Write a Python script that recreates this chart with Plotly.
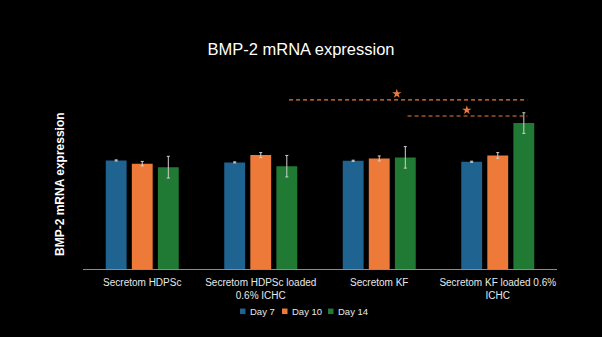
import plotly.graph_objects as go

categories = ["Secretom HDPSc", "Secretom HDPSc loaded<br>0.6% ICHC", "Secretom KF", "Secretom KF loaded 0.6%<br>ICHC"]
series_names = ["Day 7", "Day 10", "Day 14"]
day7 = [1.000, 0.982, 0.997, 0.988]
day10 = [0.970, 1.049, 1.018, 1.046]
day14 = [0.938, 0.947, 1.028, 1.344]
err7 = [0.005, 0.005, 0.005, 0.005]
err10 = [0.021, 0.023, 0.023, 0.026]
err14 = [0.100, 0.099, 0.099, 0.095]
colors = ["#1F6391", "#EE7A3A", "#217A33"]

# significance brackets
sig_start = [1, 2]
sig_end = [3, 3]
sig_y = [1.558, 1.409]
star_x = [2.148, 2.739]
star_y = [1.614, 1.463]

W, H = 602, 337
ML, MR, MT, MB = 83, 45, 79, 68
FONT = "Arial, Liberation Sans"

fig = go.Figure()
for name, vals, errs, col in zip(series_names, [day7, day10, day14], [err7, err10, err14], colors):
    fig.add_trace(go.Bar(
        x=categories, y=vals, name=name, marker_color=col, marker_line_width=0,
        error_y=dict(type="data", array=errs, color="#D0D0D0", thickness=1, width=1.5),
        showlegend=False,
    ))

green_off = 0.219
for s, e, yv in zip(sig_start, sig_end, sig_y):
    fig.add_shape(type="line", xref="x", yref="y",
                  x0=s + green_off + 0.02, x1=e + green_off + 0.03, y0=yv, y1=yv,
                  line=dict(color="#EE7A3A", width=1.2, dash="4px,3px"))
fig.add_trace(go.Scatter(x=star_x, y=star_y, mode="markers", showlegend=False, xaxis="x2",
                         marker=dict(symbol="star", size=7, color="#EE7A3A"), hoverinfo="skip"))

# manual compact legend (pixel positions converted to paper coords)
def px_x(p):
    return (p - ML) / (W - ML - MR)

def px_y(p):
    return (H - MB - p) / (H - MT - MB)

leg_sq_x = [240, 282, 328]
leg_y = 311.3
for name, col, sx in zip(series_names, colors, leg_sq_x):
    fig.add_shape(type="rect", xref="paper", yref="paper",
                  x0=px_x(sx), x1=px_x(sx + 5.5), y0=px_y(leg_y + 2.75), y1=px_y(leg_y - 2.75),
                  fillcolor=col, line_width=0)
    fig.add_annotation(text=name, xref="paper", yref="paper", x=px_x(sx + 8), y=px_y(leg_y),
                       xanchor="left", yanchor="middle", showarrow=False,
                       font=dict(family=FONT, size=9.5, color="#E8E8E8"))

fig.update_layout(
    width=W, height=H,
    paper_bgcolor="black", plot_bgcolor="black",
    margin=dict(l=ML, r=MR, t=MT, b=MB),
    barmode="group", bargap=0.34, bargroupgap=0.2,
    title=dict(text="BMP-2 mRNA expression", x=0.5, xref="container", xanchor="center",
               y=1 - 49 / H, yref="container", yanchor="middle",
               font=dict(family=FONT, size=16.5, color="white")),
    font=dict(family=FONT, color="white"),
    showlegend=False,
    xaxis=dict(type="category", range=[-0.5, 3.5], showline=True, linecolor="#8C8C8C", linewidth=1.2,
               showgrid=False, ticks="", tickfont=dict(size=10, color="#E8E8E8"), fixedrange=True,
               automargin=False, ticklabelstandoff=4),
    xaxis2=dict(range=[-0.5, 3.5], overlaying="x", visible=False, fixedrange=True),
    yaxis=dict(range=[0, 1.75], showgrid=False, zeroline=False, showticklabels=False, ticks="",
               showline=False, fixedrange=True, automargin=False),
)
fig.add_annotation(text="<b>BMP-2 mRNA expression</b>", xref="paper", yref="paper",
                   x=px_x(60), y=px_y(184),
                   xanchor="center", yanchor="middle",
                   showarrow=False, textangle=-90, font=dict(family=FONT, size=12, color="white"))

fig.write_html("out.html")
